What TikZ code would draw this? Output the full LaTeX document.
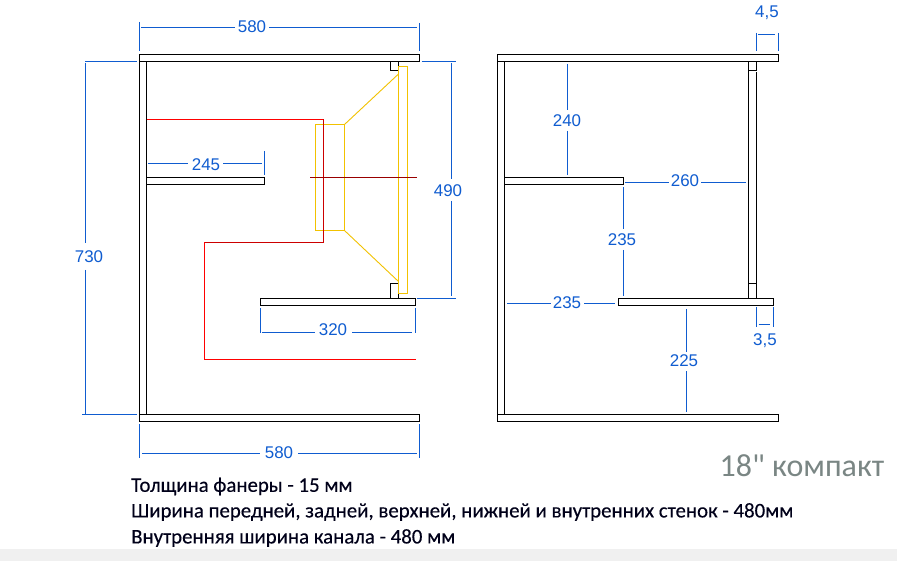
\documentclass[tikz,border=0pt]{standalone}
\usepackage{fontspec}
\setmainfont{Liberation Sans}
\newfontfamily\notefont[FakeBold=0.25]{Carlito}
\newfontfamily\titlefont{Carlito}
\definecolor{dimblue}{HTML}{0F5CD0}
\definecolor{cone}{HTML}{F2C200}
\definecolor{titlegrey}{HTML}{7A8684}
\tikzset{
  board/.style={draw=black,line width=1.15bp,fill=white},
  edge/.style={draw=black,line width=1.15bp},
  dimline/.style={draw=dimblue,line width=1bp},
  dimtext/.style={text=dimblue,font=\fontsize{17}{18}\selectfont,inner sep=0pt},
  yellowline/.style={draw=cone,line width=1.7bp},
  duct/.style={draw=red,line width=1bp},
  note/.style={anchor=west,inner sep=0pt,font=\notefont\fontsize{20.92}{22}\selectfont,text=black!90!blue},
}
\begin{document}
\begin{tikzpicture}[x=1bp,y=-1bp]
\useasboundingbox (0,0) rectangle (897,561);
\fill[white] (0,0) rectangle (897,561);
\fill[black!6] (0,549) rectangle (897,561);
% left section
\path[edge] (139.5,61.5) -- (139.5,414.5) (146.5,61.5) -- (146.5,414.5);
\path[board] (139.5,54.5) rectangle (419.5,61.5);
\path[board] (139.5,414.5) rectangle (419.5,421.5);
\path[board] (146.5,177.5) rectangle (264.5,184.5);
\path[board] (260.5,298.5) rectangle (415.5,305.5);
\path[edge] (398.5,61.5) -- (398.5,70.5) -- (390.5,70.5) -- (390.5,61.5);
\path[edge] (398.5,298.5) -- (398.5,283.5) -- (390.5,283.5) -- (390.5,298.5);
% speaker
\path[yellowline] (398.5,66.5) rectangle (407.5,293.5);
\path[yellowline] (315.5,124.5) rectangle (344.5,230.5);
\draw[cone,line width=0.9bp] (344.5,124.5) -- (398.5,74);
\draw[cone,line width=0.9bp] (344.5,230.5) -- (398.5,281.5);
% duct
\path[duct] (146.5,119.5) -- (323.5,119.5);
\draw[draw=red!80!black,line width=1bp] (323.5,119.5) -- (323.5,242.5) -- (204.5,242.5);
\path[duct] (204.5,242.5) -- (204.5,359.5) -- (415.5,359.5);
\draw[draw=red!60!black,line width=0.9bp] (310,177.5) -- (417,177.5);
% left dimensions
\path[dimline] (139.5,22) -- (139.5,51) (419.5,23) -- (419.5,51);
\path[dimline] (141,27.5) -- (235,27.5) (269,27.5) -- (417,27.5);
\node[dimtext] (dimTop) at (252,27) {580};
\path[dimline] (85,61.5) -- (136.5,61.5) (82,414.5) -- (136.5,414.5);
\path[dimline] (85.5,63) -- (85.5,243) (85.5,270) -- (85.5,414);
\node[dimtext] (dimHeight) at (89,257) {730};
\path[dimline] (421.5,61.5) -- (456,61.5) (416.5,298.5) -- (456,298.5);
\path[dimline] (451.5,63) -- (451.5,179) (451.5,201) -- (451.5,296);
\node[dimtext] (dimBaffle) at (448,191) {490};
\path[dimline] (264.5,151) -- (264.5,175.5);
\path[dimline] (148,163.5) -- (188,163.5) (223,163.5) -- (262,163.5);
\node[dimtext] (dimShelfA) at (206,165) {245};
\path[dimline] (260.5,308) -- (260.5,333) (415.5,308) -- (415.5,333);
\path[dimline] (262,332.5) -- (315,332.5) (352,332.5) -- (411.5,332.5);
\node[dimtext] (dimShelfB) at (333,330) {320};
\path[dimline] (139.5,424) -- (139.5,457.5) (419.5,424) -- (419.5,457.5);
\path[dimline] (142,453.5) -- (260,453.5) (298,453.5) -- (417,453.5);
\node[dimtext] (dimBottom) at (279,453) {580};
% right section
\path[edge] (497.5,61.5) -- (497.5,414.5) (504.5,61.5) -- (504.5,414.5);
\path[edge] (748.5,61.5) -- (748.5,298.5) (756.5,61.5) -- (756.5,70.5) (756.5,72.5) -- (756.5,298.5);
\path[edge] (748.5,70.5) -- (756.5,70.5) (748.5,283.5) -- (756.5,283.5);
\path[board] (497.5,54.5) rectangle (778.5,61.5);
\path[board] (497.5,414.5) rectangle (778.5,421.5);
\path[board] (504.5,177.5) rectangle (623.5,184.5);
\path[board] (618.5,298.5) rectangle (773.5,305.5);
% right dimensions
\path[dimline] (567.5,64) -- (567.5,110) (567.5,131) -- (567.5,175);
\node[dimtext] (dimA) at (567,121) {240};
\path[dimline] (625,182.5) -- (669,182.5) (701,182.5) -- (746,182.5);
\node[dimtext] (dimB) at (685,181) {260};
\path[dimline] (623.5,187) -- (623.5,229) (623.5,250) -- (623.5,296);
\node[dimtext] (dimC) at (622,240) {235};
\path[dimline] (507,303.5) -- (551,303.5) (584,303.5) -- (615,303.5);
\node[dimtext] (dimD) at (567,303) {235};
\path[dimline] (686.5,309) -- (686.5,352) (686.5,371) -- (686.5,412);
\node[dimtext] (dimE) at (684,361) {225};
\path[dimline] (756.5,33) -- (756.5,51.5) (778.5,33) -- (778.5,51.5);
\path[dimline] (758,34.5) -- (775,34.5);
\node[dimtext] (dimF) at (767,13) {4,5};
\path[dimline] (756.5,307) -- (756.5,326.5) (773.5,307) -- (773.5,326.5);
\path[dimline] (758.5,324.5) -- (770,324.5);
\node[dimtext] (dimG) at (765,341) {3,5};
% notes
\node[note] (noteA) at (131,486.5) {Толщина фанеры - 15 мм};
\node[note] (noteB) at (131,512) {Ширина передней, задней, верхней, нижней и внутренних стенок - 480мм};
\node[note] (noteC) at (131,538) {Внутренняя ширина канала - 480 мм};
\node[anchor=west,inner sep=0pt,text=titlegrey,font=\titlefont\fontsize{32.1}{34}\selectfont] (title) at (719.5,466) {18" компакт};
\end{tikzpicture}
\end{document}
